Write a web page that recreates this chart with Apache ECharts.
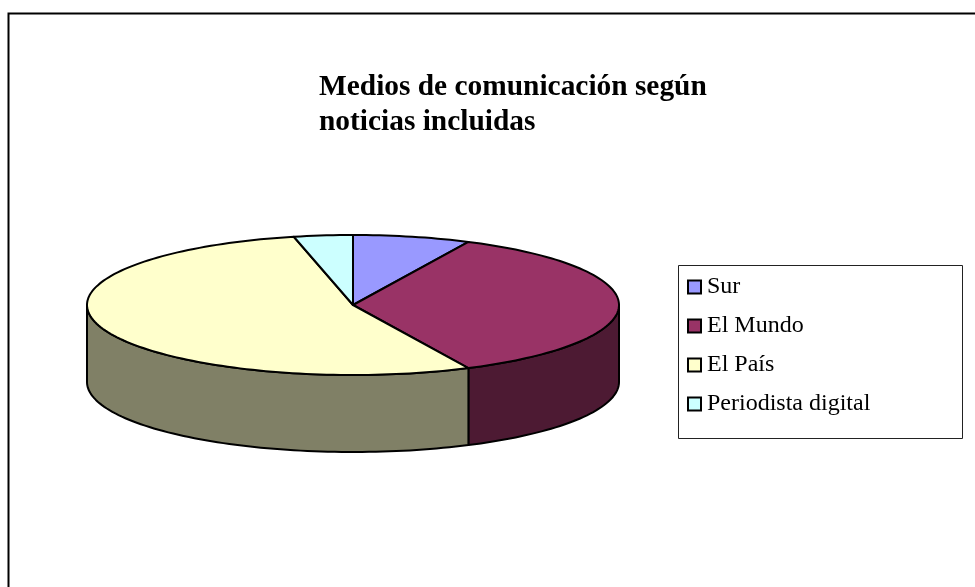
<!DOCTYPE html>
<html>
<head>
<meta charset="utf-8">
<style>html,body{margin:0;padding:0;background:#fff}#c{width:975px;height:587px}</style>
<script src="https://cdn.jsdelivr.net/npm/echarts@6/dist/echarts.min.js"></script>
</head>
<body>
<div id="c"></div>
<script>
const categories = ['Sur', 'El Mundo', 'El País', 'Periodista digital'];
const values = [2, 10, 15, 1];
const topColors = ['#9999ff', '#993366', '#ffffcc', '#ccffff'];
const sideColors = ['#4d4d80', '#4d1a33', '#808066', '#668080'];
const titleText = 'Medios de comunicación según\nnoticias incluidas';

const pie = { cx: 353, cy: 305, rx: 266, ry: 70, depth: 77 };
const serif = '"Liberation Serif", "Times New Roman", serif';
const total = values.reduce((a, b) => a + b, 0);

function pt(deg, dy) {
  const a = deg * Math.PI / 180;
  return [pie.cx + pie.rx * Math.sin(a), pie.cy - pie.ry * Math.cos(a) + (dy || 0)];
}
function arc(from, to, dy) {
  const out = [];
  const n = Math.max(2, Math.ceil(Math.abs(to - from) / 1.5));
  for (let i = 0; i <= n; i++) out.push(pt(from + (to - from) * i / n, dy));
  return out;
}
function renderSlice(index) {
  let start = 0;
  for (let i = 0; i < index; i++) start += values[i] / total * 360;
  const end = start + values[index] / total * 360;
  const children = [];
  const s = Math.max(start, 90), e = Math.min(end, 270);
  if (e > s) {
    children.push({
      type: 'polygon', z2: 1,
      shape: { points: arc(s, e, 0).concat(arc(e, s, pie.depth)) },
      style: { fill: sideColors[index], stroke: '#000', lineWidth: 2, lineJoin: 'round' }
    });
  }
  children.push({
    type: 'polygon', z2: 2,
    shape: { points: [[pie.cx, pie.cy]].concat(arc(start, end, 0)) },
    style: { fill: topColors[index], stroke: '#000', lineWidth: 2, lineJoin: 'round' }
  });
  return { type: 'group', children };
}

const chart = echarts.init(document.getElementById('c'), null, { renderer: 'canvas' });
chart.setOption({
  animation: false,
  backgroundColor: '#fff',
  title: {
    text: titleText, left: 319, top: 70, padding: 0,
    textStyle: { fontFamily: serif, fontWeight: 'bold', fontSize: 29.4, lineHeight: 35, color: '#000' }
  },
  legend: {
    orient: 'vertical', left: 687, top: 275, padding: 0,
    itemWidth: 13, itemHeight: 13, itemGap: 15,
    icon: 'rect',
    data: categories,
    itemStyle: { borderColor: '#000', borderWidth: 2 },
    textStyle: { fontFamily: serif, fontSize: 24, color: '#000', padding: [0, 0, 0, 1], lineHeight: 22 }
  },
  graphic: [
    { type: 'polyline', silent: true, shape: { points: [[8.5, 587], [8.5, 13.5], [975, 13.5]] },
      style: { fill: 'none', stroke: '#000', lineWidth: 2 } },
    { type: 'rect', silent: true, z: -1, shape: { x: 678.5, y: 265.5, width: 284, height: 173 },
      style: { fill: '#fff', stroke: '#222', lineWidth: 1 } }
  ],
  series: categories.map((name, i) => ({
    type: 'custom',
    name,
    coordinateSystem: 'none',
    itemStyle: { color: topColors[i] },
    data: [values[i]],
    renderItem: () => renderSlice(i)
  }))
});
</script>
</body>
</html>
